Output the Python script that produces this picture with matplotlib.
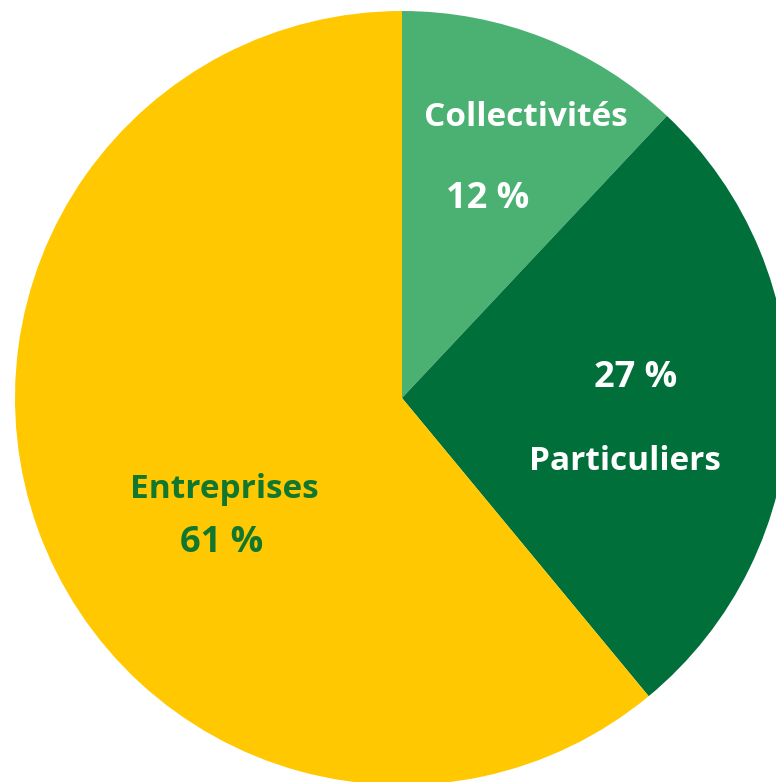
import matplotlib.pyplot as plt

# Données
categories = ["Collectivités", "Particuliers", "Entreprises"]
parts = [12, 27, 61]
couleurs = ["#4bb173", "#006f3a", "#ffc800"]
couleurs_texte = ["white", "white", "#11772f"]

W, H = 776, 782
cx, cy, r = 402, H - 398, 387

fig = plt.figure(figsize=(W / 100, H / 100), dpi=100)
ax = fig.add_axes([0, 0, 1, 1])
ax.pie(parts, colors=couleurs, startangle=90, counterclock=False,
       center=(cx, cy), radius=r, wedgeprops={"linewidth": 0})
ax.set_xlim(0, W)
ax.set_ylim(0, H)
ax.set_aspect("equal")
ax.axis("off")

# position des étiquettes (nom, pourcentage) en pixels image
pos_nom = [(526, 117), (625, 461), (224, 489)]
pos_pct = [(488, 199), (636, 378), (222, 543)]

police = dict(family=["Open Sans", "DejaVu Sans"], fontweight="bold",
              ha="center", va="center")
for nom, p, c, (xn, yn), (xp, yp) in zip(categories, parts, couleurs_texte,
                                          pos_nom, pos_pct):
    ax.text(xn, H - yn, nom, color=c, fontsize=24, **police)
    ax.text(xp, H - yp, f"{p} %", color=c, fontsize=26, **police)

fig.savefig("out.png", dpi=100)
